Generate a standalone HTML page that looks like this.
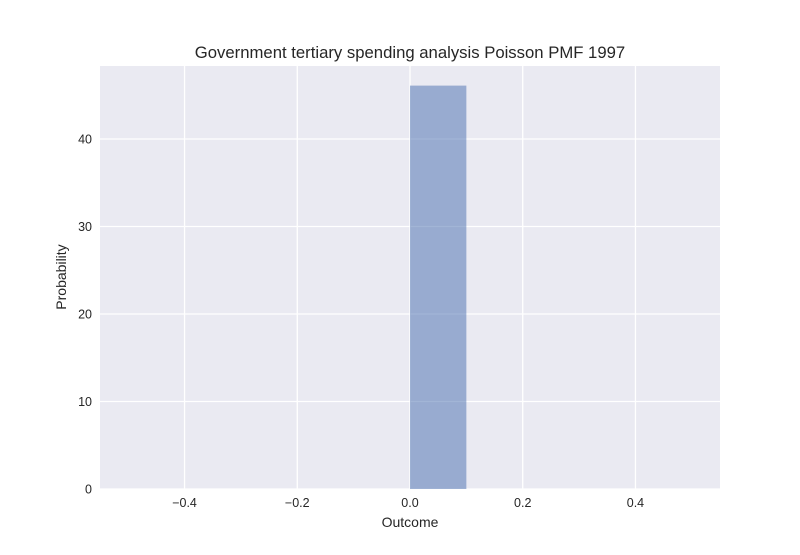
<!DOCTYPE html>
<html><head><meta charset="utf-8"><style>
body{margin:0;background:#fff;}
svg text{font-family:"Liberation Sans","DejaVu Sans",sans-serif;fill:#262626;}
</style></head><body>
<svg id="chart" width="800" height="550" xmlns="http://www.w3.org/2000/svg">
<rect width="800" height="550" fill="#fff"/>
<rect x="100" y="66" width="620" height="423" fill="#eaeaf2"/>
<g id="grid"></g>
<g id="bars"></g>
<g id="ticks"></g>
<text x="410" y="58" font-size="16.7" text-anchor="middle">Government tertiary spending analysis Poisson PMF 1997</text>
<text x="410" y="527" font-size="14" text-anchor="middle">Outcome</text>
<text x="66" y="277" font-size="14" text-anchor="middle" transform="rotate(-90 66 277)">Probability</text>
</svg>
<script>
const binStarts=[0.0];
const binWidths=[0.1];
const values=[46.1];
const xTicks=[-0.4,-0.2,0.0,0.2,0.4];
const xTickLabels=["\u22120.4","\u22120.2","0.0","0.2","0.4"];
const yTicks=[0,10,20,30,40];
const yTickLabels=["0","10","20","30","40"];
const X0=100,X1=720,Y0=489,Y1=66,xmin=-0.55,xmax=0.55,ymin=0,ymax=48.34;
const sx=v=>X0+(v-xmin)/(xmax-xmin)*(X1-X0);
const sy=v=>Y0-(v-ymin)/(ymax-ymin)*(Y0-Y1);
const NS="http://www.w3.org/2000/svg";
const grid=document.getElementById('grid'),bars=document.getElementById('bars'),ticks=document.getElementById('ticks');
function mk(t,a){const e=document.createElementNS(NS,t);for(const k in a)e.setAttribute(k,a[k]);return e;}
xTicks.forEach((v,i)=>{
 const l=mk('line',{x1:sx(v),x2:sx(v),y1:Y1,y2:Y0,stroke:'#fff','stroke-width':1.3});
 
 
 grid.appendChild(l);
 const t=mk('text',{x:sx(v),y:Y0+18,'font-size':12.5,'text-anchor':'middle'});
 
 
 t.textContent=xTickLabels[i];ticks.appendChild(t);
});
yTicks.forEach((v,i)=>{
 const l=mk('line',{x1:X0,x2:X1,y1:sy(v),y2:sy(v),stroke:'#fff','stroke-width':1.3});
 
 
 grid.appendChild(l);
 const t=mk('text',{x:X0-8,y:sy(v)+4.5,'font-size':12.5,'text-anchor':'end'});
 
 
 t.textContent=yTickLabels[i];ticks.appendChild(t);
});
values.forEach((v,i)=>{
 const x=sx(binStarts[i]),w=sx(binStarts[i]+binWidths[i])-x;
 const r=mk('rect',{x:x,y:sy(v),width:w,height:sy(0)-sy(v),fill:'#4c72b0','fill-opacity':0.52});
 
 
 bars.appendChild(r);
});
</script>
</body></html>
